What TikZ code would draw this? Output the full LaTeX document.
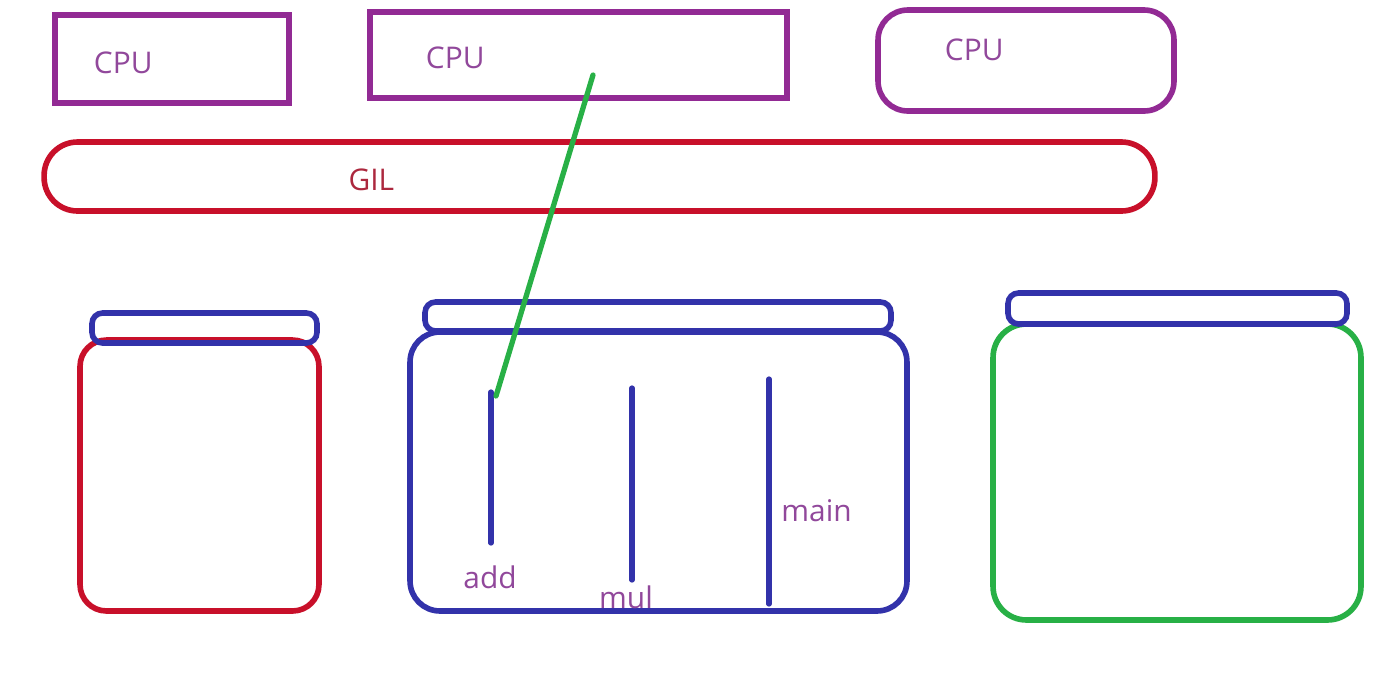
\documentclass[tikz,border=0pt]{standalone}
\usepackage{fontspec}
\setmainfont{Open Sans}
\usepackage{tikz}
\usetikzlibrary{calc,positioning}

\definecolor{cpupurple}{RGB}{146,42,148}
\definecolor{textpurple}{RGB}{145,72,155}
\definecolor{gilred}{RGB}{200,16,42}
\definecolor{giltext}{RGB}{172,40,62}
\definecolor{lidblue}{RGB}{50,50,170}
\definecolor{rungreen}{RGB}{40,176,70}

\begin{document}
\begin{tikzpicture}[x=0.02cm,y=-0.02cm]

  % Styles
  \tikzstyle{cpu}=[draw=cpupurple,line width=3.2pt,inner sep=0pt]
  \tikzstyle{gil}=[draw=gilred,line width=3.2pt,inner sep=0pt,rounded corners=19pt]
  \tikzstyle{lid}=[draw=lidblue,line width=3.2pt,inner sep=0pt,rounded corners=6pt]
  \tikzstyle{jar}=[line width=3.2pt,inner sep=0pt,rounded corners=15pt]
  \tikzstyle{thread}=[draw=lidblue,line width=3pt,line cap=round]
  \tikzstyle{run}=[draw=rungreen,line width=3pt,line cap=round]
  \tikzstyle{tag}=[text=textpurple,font=\fontsize{17}{20}\selectfont,inner sep=0pt]

  % ===========================================================================

  \useasboundingbox (0,0) rectangle (1398,694);

  % CPUs
  \node[cpu,minimum width=4.68cm,minimum height=1.76cm] (cpuA) at (172,59) {};
  \node[cpu,minimum width=8.34cm,minimum height=1.72cm] (cpuB) at (578.5,55) {};
  \node[cpu,minimum width=5.92cm,minimum height=2.02cm,rounded corners=17pt] (cpuC) at (1026,60.5) {};
  \node[tag] (cpuAlbl) at ($(cpuA.west)+(71,4)$) {CPU};
  \node[tag] (cpuBlbl) at ($(cpuB.west)+(88,3)$) {CPU};
  \node[tag] (cpuClbl) at ($(cpuC.west)+(99,-10.5)$) {CPU};

  % GIL
  \node[gil,minimum width=22.22cm,minimum height=1.38cm] (gil) at (599.5,176.5) {};
  \node[tag,text=giltext] (gillbl) at ($(gil.west)+(330,3.5)$) {GIL};

  % Processes (jar body, then lid)
  \node[jar,draw=gilred,minimum width=4.78cm,minimum height=5.42cm] (procA) at (199.5,475.5) {};
  \node[lid,minimum width=4.5cm,minimum height=0.6cm] (lidA) at (204.5,328) {};
  \node[jar,draw=lidblue,minimum width=9.94cm,minimum height=5.58cm,rounded corners=17pt] (procB) at (658.5,471.5) {};
  \node[lid,minimum width=9.32cm,minimum height=0.58cm] (lidB) at (658,316.5) {};
  \node[jar,draw=rungreen,minimum width=7.36cm,minimum height=5.92cm,rounded corners=19pt] (procC) at (1177,472) {};
  \node[lid,minimum width=6.78cm,minimum height=0.62cm] (lidC) at (1177.5,308.5) {};

  % Threads
  \coordinate (addtop) at (491,392);  \coordinate (addbot) at (491,543);
  \coordinate (multop) at (632,388);  \coordinate (mulbot) at (632,580);
  \coordinate (maintop) at (769,379); \coordinate (mainbot) at (769,604);
  \draw[thread] (addtop) -- (addbot);
  \draw[thread] (multop) -- (mulbot);
  \draw[thread] (maintop) -- (mainbot);
  \node[tag] (addlbl) at ($(addbot)+(-1,34)$) {add};
  \node[tag] (mullbl) at ($(mulbot)+(-6,17)$) {mul};
  \node[tag,anchor=west] (mainlbl) at ($(maintop)+(12,132)$) {main};

  % Thread holding the GIL
  \coordinate (hook) at (496,396);
  \coordinate (grab) at (593,75);
  \draw[run] (hook) -- (grab);

\end{tikzpicture}
\end{document}
